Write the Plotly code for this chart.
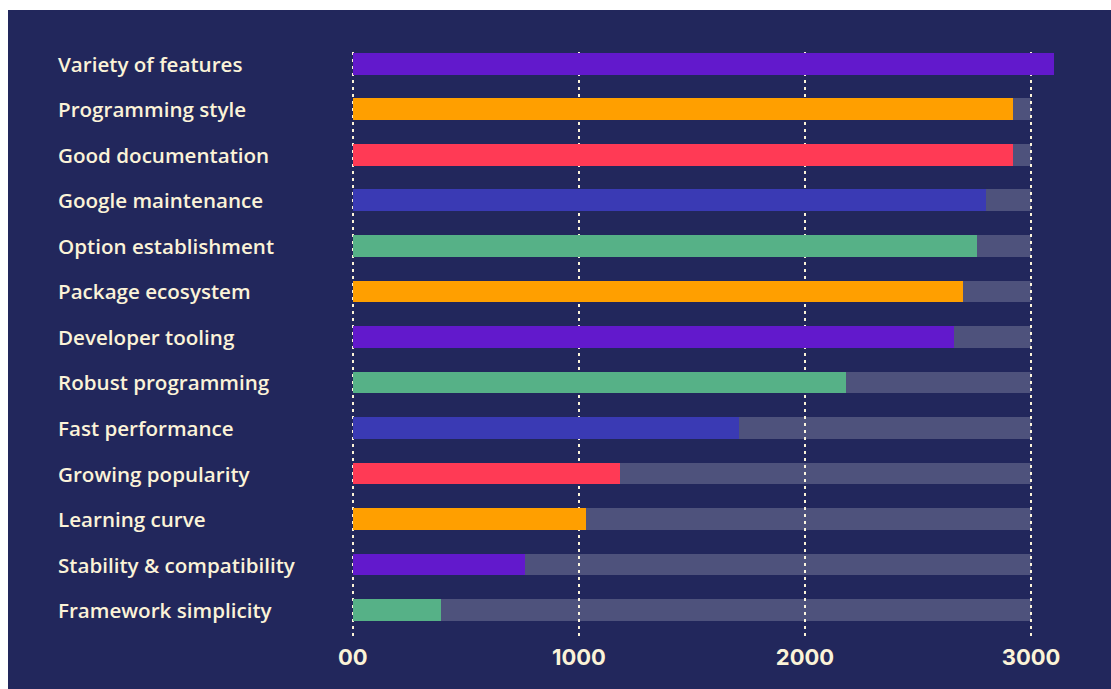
import plotly.graph_objects as go

# Survey reasons, top to bottom
reasons = [
    "Variety of features",
    "Programming style",
    "Good documentation",
    "Google maintenance",
    "Option establishment",
    "Package ecosystem",
    "Developer tooling",
    "Robust programming",
    "Fast performance",
    "Growing popularity",
    "Learning curve",
    "Stability & compatibility",
    "Framework simplicity",
]
responses = [3100, 2920, 2920, 2800, 2760, 2700, 2660, 2180, 1710, 1180, 1030, 760, 390]
bar_colors = [
    "#6219cc", "#ff9f00", "#ff3a55", "#3a3ab4", "#56b187",
    "#ff9f00", "#6219cc", "#56b187", "#3a3ab4", "#ff3a55",
    "#ff9f00", "#6219cc", "#56b187",
]
track_max = 3000
tick_values = [0, 1000, 2000, 3000]
tick_labels = ["00", "1000", "2000", "3000"]

W, H = 1111, 689
ML, MR, MT, MB = 351, 46, 52, 53
NAVY = "#22275c"
CREAM = "#fbf3d8"

fig = go.Figure()

# Grey track behind every bar, up to the scale maximum
fig.add_trace(go.Bar(
    y=reasons, x=[track_max] * len(reasons), orientation="h",
    marker=dict(color="rgba(255,255,255,0.2)", line=dict(width=0)),
    width=0.48, hoverinfo="skip", showlegend=False,
))
# Response counts
fig.add_trace(go.Bar(
    y=reasons, x=responses, orientation="h",
    marker=dict(color=bar_colors, line=dict(width=0)),
    width=0.48, showlegend=False,
))

# Left-aligned reason labels
for r in reasons:
    fig.add_annotation(
        x=0, xref="x domain", y=r, yref="y",
        xshift=-(ML - 56), xanchor="left", yanchor="middle",
        text=r, showarrow=False,
        font=dict(family="Open Sans", size=20.6, color=CREAM, weight=600),
    )

plot_w = W - ML - MR
plot_h = H - MT - MB
# Navy panel with a thin white strip along the top and left edges
fig.add_shape(
    type="rect", xref="paper", yref="paper", layer="below",
    x0=(8 - ML) / plot_w, x1=(W - ML + 5) / plot_w,
    y0=-(MB + 5) / plot_h, y1=(H - 10 - MB) / plot_h,
    fillcolor=NAVY, line=dict(width=0),
)

fig.update_layout(
    width=W, height=H,
    margin=dict(l=ML, r=MR, t=MT, b=MB),
    paper_bgcolor="white", plot_bgcolor=NAVY,
    barmode="overlay", bargap=0,
    xaxis=dict(
        range=[-8, 3150], tickvals=tick_values, ticktext=tick_labels,
        showgrid=True, gridcolor=CREAM, gridwidth=2, griddash="3px,4px",
        zeroline=False, showline=False, ticks="",
        ticklabelstandoff=6,
        tickfont=dict(family="Inter", size=22, color=CREAM, weight=700),
    ),
    yaxis=dict(
        type="category", categoryorder="array", categoryarray=reasons,
        range=[len(reasons) - 1 + 0.57, -0.26],
        showticklabels=False, showgrid=False, zeroline=False, ticks="",
    ),
)

fig.write_html("out.html")
